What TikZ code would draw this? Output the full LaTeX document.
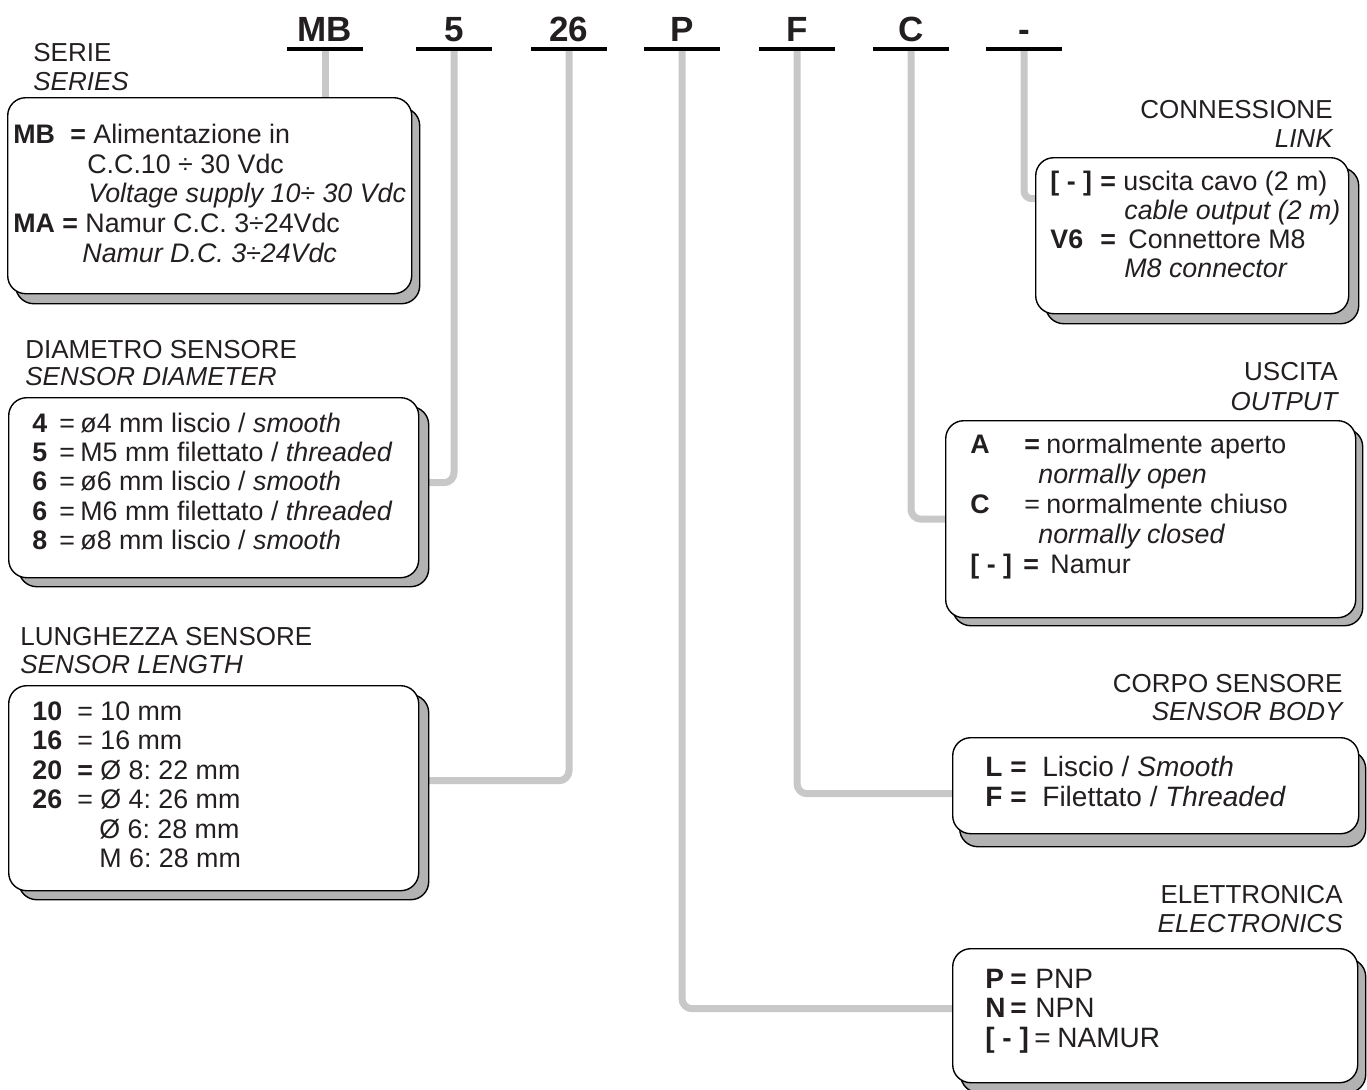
\documentclass[tikz,border=0pt]{standalone}
\usepackage{fontspec}
\setmainfont{Liberation Sans}
\usetikzlibrary{backgrounds}
\definecolor{wiregray}{RGB}{200,200,200}
\definecolor{shadowgray}{RGB}{178,178,178}
\definecolor{inkgray}{RGB}{35,31,32}
\frenchspacing

\begin{document}
\begin{tikzpicture}[x=0.5pt,y=-0.5pt,text=inkgray]

\tikzstyle{codeletter} = [font=\csize, anchor=south, inner xsep=0pt, inner ysep=3.5pt, minimum width=37.5pt]
\tikzstyle{card} = [rectangle, draw, line width=0.7pt, fill=white, rounded corners=9pt, anchor=north west, inner sep=0pt]
\tikzstyle{cardshadow} = [card, fill=shadowgray]
\tikzstyle{wire} = [draw=wiregray, line width=3.5pt, rounded corners=5pt]
\tikzstyle{cardrow} = [anchor=base west, inner sep=0pt, font=\rsize]
\tikzstyle{headl} = [anchor=base west, inner sep=0pt, font=\fsize]
\tikzstyle{headr} = [anchor=base east, inner sep=0pt, font=\fsize]

\def \fsize{\fontsize{13pt}{15pt}\selectfont}
\def \rsize{\fontsize{13.4pt}{15pt}\selectfont}
\def \bsize{\fontsize{14pt}{16pt}\selectfont}
\def \csize{\fontsize{17.5pt}{20pt}\selectfont\bfseries}
\def \kb#1#2{\makebox[#1][l]{\bfseries #2}}
\def \ke#1{\makebox[#1][l]{=}}

\useasboundingbox (0,0) rectangle (1367,1089);

%Order code on top
\node[codeletter](cMB) at (325,49){MB};
\node[codeletter](c5) at (454,49){5};
\node[codeletter](c26) at (569,49){26};
\node[codeletter](cP) at (682,49){P};
\node[codeletter](cF) at (797,49){F};
\node[codeletter](cC) at (911,49){C};
\node[codeletter](cD) at (1024,49){-};
\foreach \c in {cMB,c5,c26,cP,cF,cC,cD}
  \draw[line width=2pt] (\c.south west) -- (\c.south east);

%Cards, shadow first
\node[cardshadow, minimum width=202pt, minimum height=98pt](serieS) at (15,107){};
\node[card, minimum width=202pt, minimum height=98pt](serie) at (7,97){};
\node[cardshadow, minimum width=205pt, minimum height=90pt](diamS) at (18,406){};
\node[card, minimum width=205pt, minimum height=90pt](diam) at (8,397){};
\node[cardshadow, minimum width=205pt, minimum height=102.5pt](lenS) at (18,694){};
\node[card, minimum width=205pt, minimum height=102.5pt](len) at (8,685){};
\node[cardshadow, minimum width=156.5pt, minimum height=78pt](connS) at (1045,167){};
\node[card, minimum width=156.5pt, minimum height=78pt](conn) at (1035,157){};
\node[cardshadow, minimum width=205pt, minimum height=98.5pt](outS) at (952,428){};
\node[card, minimum width=205pt, minimum height=98.5pt](out) at (945,420){};
\node[cardshadow, minimum width=203pt, minimum height=48pt](bodyS) at (959,750){};
\node[card, minimum width=203pt, minimum height=48pt](body) at (952,737){};
\node[cardshadow, minimum width=202.5pt, minimum height=67pt](elecS) at (960,958){};
\node[card, minimum width=202.5pt, minimum height=67pt](elec) at (952,948){};

%Headings left
\node[headl](serieH) at (33,61){SERIE};
\node[headl](serieE) at (33,90){\itshape SERIES};
\node[headl](diamH) at (25,358){DIAMETRO SENSORE};
\node[headl](diamE) at (25,385){\itshape SENSOR DIAMETER};
\node[headl](lenH) at (20,645){LUNGHEZZA SENSORE};
\node[headl](lenE) at (20,673){\itshape SENSOR LENGTH};

%Headings right
\node[headr](connH) at (1333,118){CONNESSIONE};
\node[headr](connE) at (1333,147){\itshape LINK};
\node[headr](outH) at (1338,380){USCITA};
\node[headr](outE) at (1338,410){\itshape OUTPUT};
\node[headr](bodyH) at (1343,692){CORPO SENSORE};
\node[headr](bodyE) at (1343,720){\itshape SENSOR BODY};
\node[headr](elecH) at (1343,903){ELETTRONICA};
\node[headr](elecE) at (1343,932){\itshape ELECTRONICS};

%Serie
\node[cardrow](s1) at (13,143){\kb{28.5pt}{MB}\kb{11.5pt}{=}Alimentazione in};
\node[cardrow](s2) at (87,173){C.C.10 ÷ 30 Vdc};
\node[cardrow](s3) at (88,202){\itshape Voltage supply 10÷ 30 Vdc};
\node[cardrow](s4) at (13,232){\kb{24.5pt}{MA}\kb{11.5pt}{=}Namur C.C. 3÷24Vdc};
\node[cardrow](s5) at (82,262){\itshape Namur D.C. 3÷24Vdc};

%Diametro
\node[cardrow](d1) at (32,432){\kb{13.5pt}{4}\ke{10.5pt}ø4 mm liscio / \textit{smooth}};
\node[cardrow](d2) at (32,461){\kb{13.5pt}{5}\ke{10.5pt}M5 mm filettato / \textit{threaded}};
\node[cardrow](d3) at (32,490){\kb{13.5pt}{6}\ke{10.5pt}ø6 mm liscio / \textit{smooth}};
\node[cardrow](d4) at (32,520){\kb{13.5pt}{6}\ke{10.5pt}M6 mm filettato / \textit{threaded}};
\node[cardrow](d5) at (32,549){\kb{13.5pt}{8}\ke{10.5pt}ø8 mm liscio / \textit{smooth}};

%Lunghezza
\node[cardrow](l1) at (32,720){\kb{22.5pt}{10}\ke{11.5pt}10 mm};
\node[cardrow](l2) at (32,749.5){\kb{22.5pt}{16}\ke{11.5pt}16 mm};
\node[cardrow](l3) at (32,779){\kb{22.5pt}{20}\kb{11.5pt}{=}Ø 8: 22 mm};
\node[cardrow](l4) at (32,808.5){\kb{22.5pt}{26}\ke{11.5pt}Ø 4: 26 mm};
\node[cardrow](l5) at (99,838){Ø 6: 28 mm};
\node[cardrow](l6) at (99,867.5){M 6: 28 mm};

%Connessione
\node[cardrow](n1) at (1050,190){\kb{25pt}{[ - ]}\kb{11.5pt}{=}uscita cavo (2 m)};
\node[cardrow](n2) at (1124,219){\itshape cable output (2 m)};
\node[cardrow](n3) at (1050,248){\kb{25pt}{V6}\kb{14pt}{=}Connettore M8};
\node[cardrow](n4) at (1124,277){\itshape M8 connector};

%Uscita
\node[cardrow](o1) at (970,453){\kb{27pt}{A}\kb{11pt}{=}normalmente aperto};
\node[cardrow](o2) at (1038,483){\itshape normally open};
\node[cardrow](o3) at (970,513){\kb{27pt}{C}\ke{11pt}normalmente chiuso};
\node[cardrow](o4) at (1038,543){\itshape normally closed};
\node[cardrow](o5) at (970,573){\kb{26.5pt}{[ - ]}\kb{13.5pt}{=}Namur};

%Corpo sensore
\node[cardrow, font=\bsize](b1) at (985,776){\kb{12.5pt}{L}\kb{16pt}{=}Liscio / \textit{Smooth}};
\node[cardrow, font=\bsize](b2) at (985,806){\kb{12.5pt}{F}\kb{16pt}{=}Filettato / \textit{Threaded}};

%Elettronica
\node[cardrow, font=\bsize](e1) at (985,988){\kb{12.5pt}{P}\kb{12.5pt}{=}PNP};
\node[cardrow, font=\bsize](e2) at (985,1017){\kb{12.5pt}{N}\kb{12.5pt}{=}NPN};
\node[cardrow, font=\bsize](e3) at (985,1047){\kb{24.5pt}{[ - ]}\ke{11.5pt}NAMUR};

%Grey wires from code to cards
\begin{scope}[on background layer]
\draw[wire] (cMB.south) -- (cMB.south |- serie.north);
\draw[wire] (c5.south) |- ([yshift=2.5pt]diam.east);
\draw[wire] (c26.south) |- ([yshift=3.75pt]len.east);
\draw[wire] (cP.south) |- ([yshift=3.5pt]elec.west);
\draw[wire] (cF.south) |- ([yshift=-4pt]body.west);
\draw[wire] (cC.south) |- (out.west);
\draw[wire, rounded corners=4pt] (cD.south) |- ([yshift=18.5pt]conn.west);
\end{scope}

\end{tikzpicture}
\end{document}
